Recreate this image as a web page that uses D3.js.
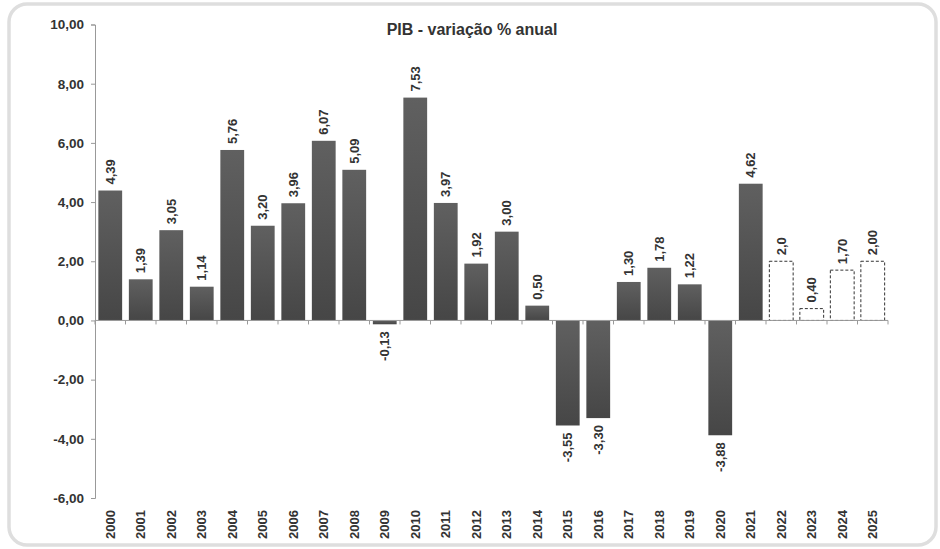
<!DOCTYPE html>
<html>
<head>
<meta charset="utf-8">
<script src="https://cdn.jsdelivr.net/npm/d3@7"></script>
<style>
  body { margin: 0; background: #fff; }
  text { font-family: "Liberation Sans", Arial, sans-serif; font-weight: bold; fill: #333; }
</style>
</head>
<body>
<svg id="chart"></svg>
<script>
// data
var years = ["2000","2001","2002","2003","2004","2005","2006","2007","2008","2009","2010","2011","2012",
  "2013","2014","2015","2016","2017","2018","2019","2020","2021","2022","2023","2024","2025"];
var values = [4.39, 1.39, 3.05, 1.14, 5.76, 3.20, 3.96, 6.07, 5.09, -0.13, 7.53, 3.97, 1.92,
  3.00, 0.50, -3.55, -3.30, 1.30, 1.78, 1.22, -3.88, 4.62, 2.0, 0.40, 1.70, 2.00];
var valueLabels = ["4,39","1,39","3,05","1,14","5,76","3,20","3,96","6,07","5,09","-0,13","7,53","3,97","1,92",
  "3,00","0,50","-3,55","-3,30","1,30","1,78","1,22","-3,88","4,62","2,0","0,40","1,70","2,00"];
var projected = ["2022","2023","2024","2025"];
var yTicks = [-6, -4, -2, 0, 2, 4, 6, 8, 10];
var title = "PIB - variação % anual";

var W = 940, H = 549;
var svg = d3.select("#chart").attr("width", W).attr("height", H);

// frame
svg.append("rect")
  .attr("x", 9).attr("y", 4)
  .attr("width", 927).attr("height", 541)
  .attr("rx", 18).attr("ry", 18)
  .attr("fill", "none")
  .attr("stroke", "#dedede")
  .attr("stroke-width", 3.5);

var defs = svg.append("defs");
var grad = defs.append("linearGradient")
  .attr("id", "barGrad")
  .attr("x1", 0).attr("y1", 0).attr("x2", 0).attr("y2", 1);
grad.append("stop").attr("offset", "0%").attr("stop-color", "#606060");
grad.append("stop").attr("offset", "100%").attr("stop-color", "#464646");

var x = d3.scaleBand()
  .domain(years)
  .range([95, 888])
  .paddingInner(0.22)
  .paddingOuter(0.11);

var y = d3.scaleLinear()
  .domain([-6, 10])
  .range([498, 24.5]);

var fmt = function (d) { return d3.format(".2f")(d).replace(".", ",").replace("−", "-"); };

// title
svg.append("text")
  .attr("x", 472)
  .attr("y", 35)
  .attr("text-anchor", "middle")
  .style("font-size", "16px")
  .text(title);

// y axis
var yAxis = svg.append("g")
  .attr("transform", "translate(95,0)")
  .call(d3.axisLeft(y).tickValues(yTicks).tickFormat(fmt).tickSize(4).tickPadding(7));
yAxis.select(".domain").attr("stroke", "#999");
yAxis.selectAll(".tick line").attr("stroke", "#999");
yAxis.selectAll(".tick text")
  .style("font-size", "13.5px")
  .style("font-family", "'Liberation Sans', Arial, sans-serif")
  .style("font-weight", "bold")
  .attr("fill", "#333");

// bars
var data = years.map(function (yr, i) {
  return { year: yr, value: values[i], label: valueLabels[i], proj: projected.indexOf(yr) >= 0 };
});

svg.selectAll("rect.bar")
  .data(data)
  .enter()
  .append("rect")
  .attr("class", "bar")
  .attr("x", function (d) { return x(d.year); })
  .attr("width", x.bandwidth())
  .attr("y", function (d) { return y(Math.max(0, d.value)); })
  .attr("height", function (d) { return Math.abs(y(d.value) - y(0)); })
  .attr("fill", function (d) { return d.proj ? "#fff" : "url(#barGrad)"; })
  .attr("stroke", function (d) { return d.proj ? "#333" : "none"; })
  .attr("stroke-width", 1)
  .attr("stroke-dasharray", function (d) { return d.proj ? "3,2" : null; });

// x axis (at zero)
var step = x.step();
var xAxis = svg.append("g");
xAxis.append("line")
  .attr("x1", 95).attr("x2", 888)
  .attr("y1", y(0)).attr("y2", y(0))
  .attr("stroke", "#999");
xAxis.selectAll("line.tick")
  .data(d3.range(years.length + 1))
  .enter()
  .append("line")
  .attr("x1", function (i) { return 95 + i * step; })
  .attr("x2", function (i) { return 95 + i * step; })
  .attr("y1", y(0)).attr("y2", y(0) + 4)
  .attr("stroke", "#999");

// year labels
svg.selectAll("text.year")
  .data(years)
  .enter()
  .append("text")
  .attr("class", "year")
  .attr("transform", function (d) {
    return "translate(" + (x(d) + x.bandwidth() / 2) + ",510) rotate(-90)";
  })
  .attr("dy", "0.36em")
  .attr("text-anchor", "end")
  .style("font-size", "13px")
  .text(function (d) { return d; });

// value labels
svg.selectAll("text.val")
  .data(data)
  .enter()
  .append("text")
  .attr("class", "val")
  .attr("transform", function (d) {
    var yy = d.value >= 0 ? y(d.value) - 6 : y(d.value) + 7;
    return "translate(" + (x(d.year) + x.bandwidth() / 2) + "," + yy + ") rotate(-90)";
  })
  .attr("dy", "0.36em")
  .attr("text-anchor", function (d) { return d.value >= 0 ? "start" : "end"; })
  .style("font-size", "13px")
  .text(function (d) { return d.label; });
</script>
</body>
</html>
